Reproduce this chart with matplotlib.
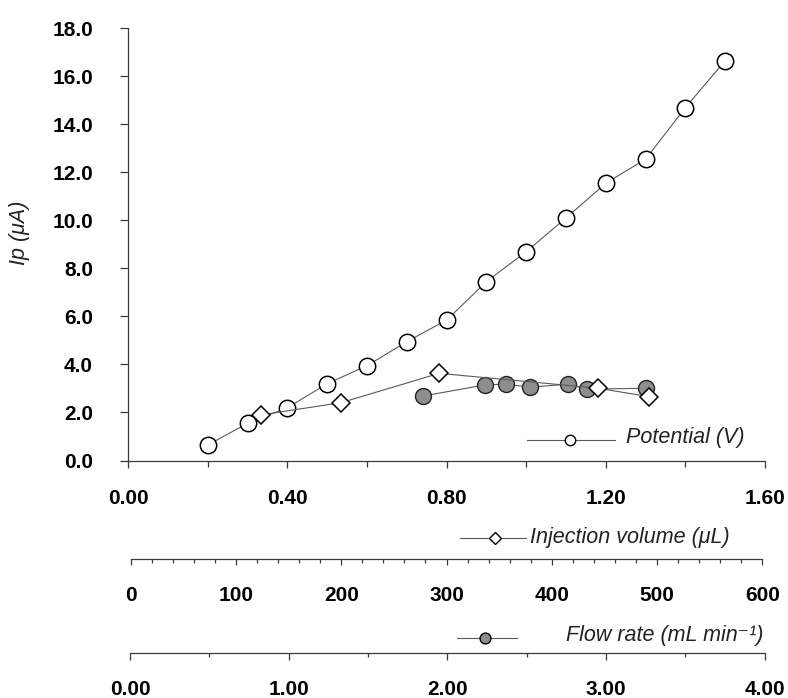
import matplotlib
matplotlib.use("Agg")
import matplotlib.pyplot as plt
from matplotlib.lines import Line2D
from matplotlib.ticker import MultipleLocator, FormatStrFormatter

# ---------------- data ----------------
potential_v = [0.2, 0.3, 0.4, 0.5, 0.6, 0.7, 0.8, 0.9, 1.0, 1.1, 1.2, 1.3, 1.4, 1.5]
potential_ip = [0.65, 1.55, 2.2, 3.2, 3.95, 4.95, 5.85, 7.45, 8.7, 10.1, 11.55, 12.55, 14.7, 16.65]

injection_ul = [124, 200, 293, 444, 492]
injection_ip = [1.90, 2.41, 3.63, 3.01, 2.66]

flow_ml = [1.85, 2.24, 2.37, 2.52, 2.76, 2.88, 3.25]
flow_ip = [2.69, 3.15, 3.18, 3.05, 3.18, 2.97, 3.01]

y_ticks = [0, 2, 4, 6, 8, 10, 12, 14, 16, 18]
ylabel = "Ip (μA)"
legend_potential = "Potential (V)"
legend_injection = "Injection volume (μL)"
legend_flow = "Flow rate (mL min⁻¹)"

# ---------------- style ----------------
W, H = 788, 698
DPI = 100
plt.rcParams['font.family'] = ['Liberation Sans', 'DejaVu Sans']
fig = plt.figure(figsize=(W / DPI, H / DPI), dpi=DPI)

x0_px, x1_px = 128.3, 765.0
y0_px, y1_px = 460.5, 28.3
ax = fig.add_axes([x0_px / W, 1 - y0_px / H, (x1_px - x0_px) / W, (y0_px - y1_px) / H])

spine_col = '#3a3a3a'
line_col = '#5a5a5a'
TICK_FS = 15
lab_font = dict(fontsize=15.5, style='italic', color='#222222')

def px2pt(p):
    return p * 72.0 / DPI

# main axes
ax.set_xlim(0, 1.6)
ax.set_ylim(0, 18)
for s in ['top', 'right']:
    ax.spines[s].set_visible(False)
for s in ['left', 'bottom']:
    ax.spines[s].set_color(spine_col)
    ax.spines[s].set_linewidth(0.9)
ax.spines['left'].set_bounds(0, 18)
ax.set_yticks(y_ticks)
ax.yaxis.set_major_formatter(FormatStrFormatter('%.1f'))
ax.xaxis.set_major_locator(MultipleLocator(0.4))
ax.xaxis.set_minor_locator(MultipleLocator(0.2))
ax.xaxis.set_major_formatter(FormatStrFormatter('%.2f'))
ax.tick_params(axis='y', direction='out', length=5.5, width=0.9, color=spine_col, pad=20)
ax.tick_params(axis='x', which='major', direction='out', length=5.2, width=0.9, color=spine_col, pad=15)
ax.tick_params(axis='x', which='minor', direction='out', length=4.5, width=0.9, color=spine_col)
for lab in ax.get_xticklabels() + ax.get_yticklabels():
    lab.set_fontsize(TICK_FS)
    lab.set_fontweight('bold')
ax.set_ylabel(ylabel, **lab_font)
ax.yaxis.label.set_verticalalignment('center')
ax.yaxis.set_label_coords((19 - x0_px) / (x1_px - x0_px), (y0_px - 233) / (y0_px - y1_px))
ax.patch.set_visible(False)

ax.plot(potential_v, potential_ip, '-', color=line_col, lw=0.8,
        marker='o', markersize=11.8, markerfacecolor='white',
        markeredgecolor='black', markeredgewidth=1.1, zorder=3, clip_on=False)


def make_twin(v0, v1, v0_px, v1_px, offset_px):
    t = ax.twiny()
    ppu = (v1_px - v0_px) / (v1 - v0)
    lo = v0 - (v0_px - x0_px) / ppu
    hi = v1 + (x1_px - v1_px) / ppu
    t.set_xlim(lo, hi)
    t.set_ylim(0, 18)
    t.xaxis.tick_bottom()
    for s in ['top', 'left', 'right']:
        t.spines[s].set_visible(False)
    t.spines['bottom'].set_position(('outward', px2pt(offset_px)))
    t.spines['bottom'].set_bounds(v0, v1)
    t.spines['bottom'].set_color(spine_col)
    t.spines['bottom'].set_linewidth(0.9)
    t.patch.set_visible(False)
    t.tick_params(axis='y', left=False, right=False, labelleft=False, labelright=False)
    return t

# flow rate axis
axf = make_twin(0, 4, 130.0, 764.5, 653.3 - y0_px)
axf.xaxis.set_major_locator(MultipleLocator(1.0))
axf.xaxis.set_minor_locator(MultipleLocator(0.5))
axf.xaxis.set_major_formatter(FormatStrFormatter('%.2f'))
axf.tick_params(axis='x', which='major', direction='out', length=4.8, width=0.9, color=spine_col, pad=14.5)
axf.tick_params(axis='x', which='minor', direction='out', length=3.0, width=0.9, color=spine_col)
for lab in axf.get_xticklabels():
    lab.set_fontsize(TICK_FS)
    lab.set_fontweight('bold')
axf.plot(flow_ml, flow_ip, '-', color=line_col, lw=0.8,
         marker='o', markersize=11.5, markerfacecolor='#8e8e8e',
         markeredgecolor='#222222', markeredgewidth=1.0, zorder=3, clip_on=False)

# injection volume axis
axi = make_twin(0, 600, 130.7, 762.3, 559.3 - y0_px)
axi.xaxis.set_major_locator(MultipleLocator(100))
axi.xaxis.set_minor_locator(MultipleLocator(20))
axi.xaxis.set_major_formatter(FormatStrFormatter('%d'))
axi.tick_params(axis='x', which='major', direction='out', length=4.3, width=0.9, color=spine_col, pad=15)
axi.tick_params(axis='x', which='minor', direction='out', length=3.0, width=0.9, color=spine_col)
for lab in axi.get_xticklabels():
    lab.set_fontsize(TICK_FS)
    lab.set_fontweight('bold')
axi.plot(injection_ul, injection_ip, '-', color=line_col, lw=0.8,
         marker='D', markersize=9.2, markerfacecolor='white',
         markeredgecolor='black', markeredgewidth=1.1, zorder=3, clip_on=False)

# legend samples
def fx(p):
    return p / W

def fy(p):
    return 1 - p / H

def sample(xa, xb, xm, y, marker, ms, fc):
    fig.add_artist(Line2D([fx(xa), fx(xb)], [fy(y), fy(y)], transform=fig.transFigure,
                          color=line_col, lw=0.8))
    fig.add_artist(Line2D([fx(xm)], [fy(y)], transform=fig.transFigure, marker=marker,
                          markersize=ms, markerfacecolor=fc, markeredgecolor='black',
                          markeredgewidth=1.0, linestyle='none'))

sample(527, 615, 570, 440, 'o', 7.5, 'white')
fig.text(fx(626), fy(438), legend_potential, ha='left', va='center', **lab_font)

sample(460, 526, 495, 538, 'D', 6.3, 'white')
fig.text(fx(530), fy(537), legend_injection, ha='left', va='center', **lab_font)

sample(457, 517, 485, 637.7, 'o', 7.8, '#8e8e8e')
fig.text(fx(566), fy(636), legend_flow, ha='left', va='center', **lab_font)

fig.savefig('out.png', dpi=DPI)
